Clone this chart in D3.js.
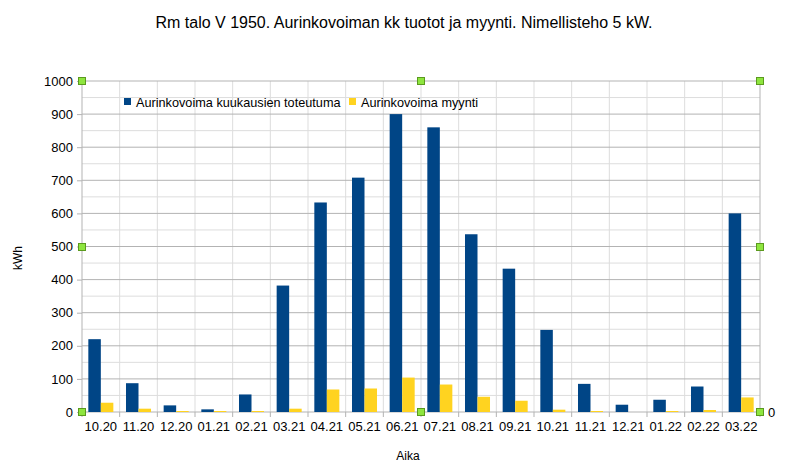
<!DOCTYPE html>
<html><head><meta charset="utf-8">
<script src="https://cdn.jsdelivr.net/npm/d3@7"></script>
<style>body{margin:0;background:#fff}svg{display:block;font-family:"Liberation Sans",Arial,sans-serif}</style>
</head><body><svg id="c" width="785" height="468"></svg>
<script>
const categories = ["10.20","11.20","12.20","01.21","02.21","03.21","04.21","05.21","06.21","07.21","08.21","09.21","10.21","11.21","12.21","01.22","02.22","03.22"];
const production = [220,87,20,8,53,382,633,708,900,860,537,433,248,85,22,37,77,600];
const sales = [28,10,3,3,3,10,68,71,104,83,46,34,7,3,0,3,6,44];
const seriesNames = ["Aurinkovoima kuukausien toteutuma","Aurinkovoima myynti"];
const colors = ["#004586","#ffd320"];
const yTicks = [0,100,200,300,400,500,600,700,800,900,1000];

const svg = d3.select("#c");
const L=82,R=760,T=81,B=412;
const x = d3.scaleBand().domain(categories).range([L,R]).paddingInner(0.336).paddingOuter(0.168);
const xc = d3.scaleBand().domain(categories).range([L,R]);
const xi = d3.scaleBand().domain([0,1]).range([0,x.bandwidth()]);
const y = d3.scaleLinear().domain([0,1000]).range([B,T]);

// minor grid
const g = svg.append("g");
g.selectAll("line.minor").data(d3.range(50,1000,100)).join("line")
 .attr("x1",L).attr("x2",R).attr("y1",d=>y(d)).attr("y2",d=>y(d)).attr("stroke","#dddddd");
// vertical grid
g.selectAll("line.v").data(categories.slice(1)).join("line")
 .attr("x1",d=>xc(d)).attr("x2",d=>xc(d)).attr("y1",T).attr("y2",B).attr("stroke","#dddddd");
// major grid
g.selectAll("line.major").data(yTicks).join("line")
 .attr("x1",L).attr("x2",R).attr("y1",d=>y(d)).attr("y2",d=>y(d)).attr("stroke","#b3b3b3");
svg.append("line").attr("x1",L).attr("x2",L).attr("y1",T).attr("y2",B).attr("stroke","#b3b3b3");
svg.append("line").attr("x1",R).attr("x2",R).attr("y1",T).attr("y2",B).attr("stroke","#b3b3b3");

// x axis
const xAxis = svg.append("g").attr("transform",`translate(0,${B})`)
 .call(d3.axisBottom(xc).tickSize(0).tickPadding(10));
xAxis.select(".domain").remove();
xAxis.selectAll("text").attr("font-size",13).attr("fill","#000").attr("font-family","Liberation Sans, Arial, sans-serif");
svg.append("g").selectAll("line").data(d3.range(categories.length+1)).join("line")
 .attr("x1",i=>L+i*xc.step()).attr("x2",i=>L+i*xc.step()).attr("y1",B).attr("y2",B+5).attr("stroke","#b3b3b3");

// bars
[production,sales].forEach((arr,si)=>{
  svg.append("g").selectAll("rect").data(arr).join("rect")
   .attr("x",(d,i)=>x(categories[i])+xi(si))
   .attr("width",xi.bandwidth())
   .attr("y",d=>y(d)).attr("height",d=>B-y(d))
   .attr("fill",colors[si]);
});

// y axis
const yAxis = svg.append("g").attr("transform",`translate(${L},0)`)
 .call(d3.axisLeft(y).tickValues(yTicks).tickFormat(d3.format("d")).tickSize(5).tickPadding(4));
yAxis.select(".domain").remove();
yAxis.selectAll("line").attr("stroke","#b3b3b3");
yAxis.selectAll("text").attr("font-size",13).attr("fill","#000").attr("font-family","Liberation Sans, Arial, sans-serif");

// secondary axis 0
svg.append("text").attr("x",768).attr("y",B+4.5).attr("font-size",13).text("0");

// titles
svg.append("text").attr("x",404).attr("y",28).attr("text-anchor","middle").attr("font-size",16).text("Rm talo V 1950. Aurinkovoiman kk tuotot ja myynti. Nimellisteho 5 kW.");
svg.append("text").attr("transform","translate(22,258) rotate(-90)").attr("text-anchor","middle").attr("font-size",12).text("kWh");
svg.append("text").attr("x",408).attr("y",460).attr("text-anchor","middle").attr("font-size",12).text("Aika");

// legend
const legX=[124,349];
seriesNames.forEach((n,i)=>{
  svg.append("rect").attr("x",legX[i]).attr("y",98).attr("width",7).attr("height",7).attr("fill",colors[i]);
  svg.append("text").attr("x",legX[i]+12).attr("y",107).attr("font-size",12.7).text(n);
});

// selection handles
const handles=[[L,T],[(L+R)/2,T],[R,T],[L,(T+B)/2],[R,(T+B)/2],[L,B],[(L+R)/2,B],[R,B]];
svg.append("g").selectAll("rect").data(handles).join("rect")
 .attr("x",d=>Math.round(d[0])-3.5).attr("y",d=>Math.round(d[1])-3.5).attr("width",7).attr("height",7)
 .attr("fill","#8ee53f").attr("stroke","#5b9a1e").attr("stroke-width",1);
</script></body></html>
